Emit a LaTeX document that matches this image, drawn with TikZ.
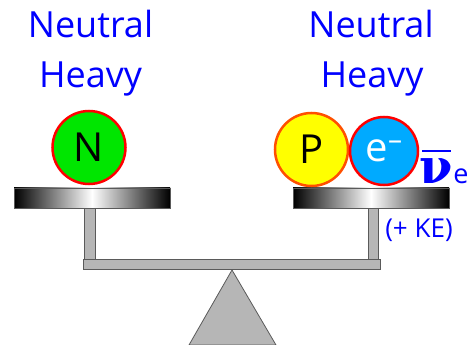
\documentclass[tikz,border=0pt]{standalone}
\usepackage{fontspec}
\usepackage{graphicx}
\setmainfont{Open Sans}
\newfontfamily\nufont{DejaVu Serif}
\definecolor{txtblue}{RGB}{0,0,255}
\definecolor{ngreen}{RGB}{0,230,0}
\definecolor{pyellow}{RGB}{255,255,0}
\definecolor{eblue}{RGB}{0,170,255}
\definecolor{rimred}{RGB}{255,0,0}
\definecolor{rimorange}{RGB}{255,80,0}
\definecolor{steel}{RGB}{182,182,182}
\definecolor{steeledge}{RGB}{90,90,90}
\begin{document}
\begin{tikzpicture}[x=1pt,y=-1pt,
  label/.style={text=txtblue,font=\fontsize{36}{36}\selectfont,anchor=base,inner sep=0},
  ball/.style={circle,minimum size=73pt,inner sep=0,line width=2.5pt,font=\fontsize{40}{40}\selectfont},
  plate/.style={draw=steeledge,line width=0.8pt,left color=black,right color=black,middle color=white},
  bar/.style={fill=steel,draw=steeledge,line width=0.8pt}]
\useasboundingbox (0,0) rectangle (475,345);
% labels
\node[label] (nl) at (90.5,38) {Neutral};
\node[label] (hl) at (90.5,88) {Heavy};
\node[label] (nr) at (371,38) {Neutral};
\node[label] (hr) at (372,88) {Heavy};
% fulcrum
\draw[bar] (232,270) -- (276,345) -- (189,345) -- cycle;
% beam and posts
\draw[bar] (83,259) rectangle (380,269);
\draw[bar] (84,207) rectangle (95,259);
\draw[bar] (368,207) rectangle (378,259);
% plates
\shade[plate] (14,188) rectangle (170,208);
\draw[steeledge,line width=0.8pt] (14,188) rectangle (170,208);
\shade[plate] (293,188) rectangle (449,208);
\draw[steeledge,line width=0.8pt] (293,188) rectangle (449,208);
% balls
\node[ball,fill=ngreen,draw=rimred] (N) at (89,147.5) {N};
\node[ball,fill=pyellow,draw=rimorange] (P) at (311.5,149.5) {P};
\node[ball,fill=eblue,draw=rimred,minimum size=68pt,text=white] (E) at (384,151) {e\raisebox{0.3em}{\fontsize{28}{28}\selectfont –}};
% antineutrino
\node[anchor=base west,inner sep=0,text=txtblue,font=\fontsize{48}{48}\selectfont\nufont\bfseries] (nu) at (419,184) {ν};
\node[anchor=base west,inner sep=0,text=txtblue,font=\fontsize{27}{27}\selectfont] (sub) at ([xshift=0.5pt]nu.base east) {e};
\draw[txtblue,line width=1.5pt] ([shift={(3pt,33pt)}]nu.base west) -- ([shift={(-2pt,33pt)}]nu.base east);
% kinetic energy
\node[anchor=base,inner sep=0,text=txtblue,font=\fontsize{26}{26}\selectfont] (ke) at (419,238) {(+ KE)};
\end{tikzpicture}
\end{document}
